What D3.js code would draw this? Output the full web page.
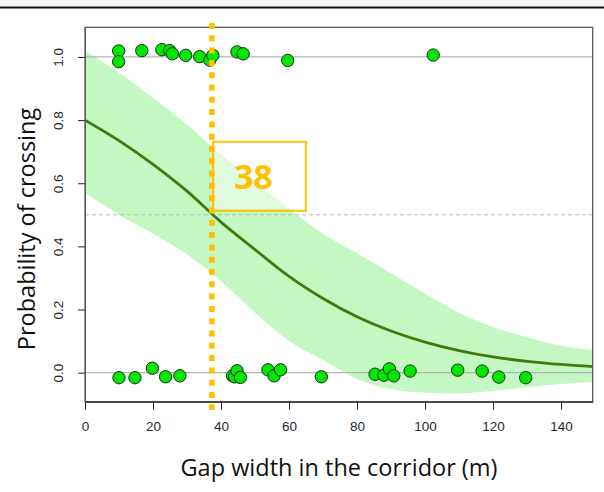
<!DOCTYPE html>
<html>
<head>
<meta charset="utf-8">
<script src="https://cdn.jsdelivr.net/npm/d3@7"></script>
<style>
  html, body { margin: 0; padding: 0; background: #fff; }
  #chart { width: 604px; height: 492px; }
</style>
</head>
<body>
<div id="chart"></div>
<script>
// crossings observed (y jittered around 1)
const gapCrossed  = [9.9, 9.9, 16.7, 22.6, 24.9, 25.7, 29.6, 33.7, 36.7, 37.6, 44.7, 46.5, 59.6, 102.4];
const probCrossed = [1.019, 0.985, 1.02, 1.023, 1.02, 1.01, 1.005, 1.001, 0.99, 1.005, 1.016, 1.01, 0.989, 1.006];
// no crossing (y jittered around 0)
const gapNot  = [10.0, 14.7, 19.8, 23.7, 27.9, 43.4, 44.0, 44.7, 45.7, 53.8, 55.6, 57.5, 69.5,
                 85.3, 87.9, 89.5, 90.8, 95.6, 109.6, 116.8, 121.7, 129.6];
const probNot = [-0.016, -0.016, 0.014, -0.013, -0.01, -0.01, -0.013, 0.006, -0.015, 0.009, -0.01, 0.009, -0.013,
                 -0.005, -0.008, 0.012, -0.01, 0.005, 0.008, 0.005, -0.014, -0.016];

// fitted curve and confidence band
const curveGap  = [0, 10, 20, 30, 40, 50, 60, 70, 80, 90, 100, 110, 120, 130, 140, 150];
const fitProb   = [0.80, 0.735, 0.66, 0.575, 0.477, 0.39, 0.305, 0.235, 0.177, 0.132, 0.097, 0.07, 0.05, 0.036, 0.026, 0.019];
const upperProb = [1.02, 0.95, 0.87, 0.785, 0.69, 0.605, 0.52, 0.44, 0.378, 0.315, 0.25, 0.19, 0.145, 0.112, 0.085, 0.071];
const lowerProb = [0.57, 0.50, 0.44, 0.375, 0.29, 0.19, 0.10, 0.04, -0.02, -0.052, -0.064, -0.066, -0.057, -0.046, -0.036, -0.028];

const xTicks = [0, 20, 40, 60, 80, 100, 120, 140];
const yTicks = [0, 0.2, 0.4, 0.6, 0.8, 1.0];
const refLines = [0, 1];
const halfLine = 0.5;
const thresholdGap = 37.3;
const thresholdLabel = "38";

const width = 604, height = 492;
const margin = { left: 85, right: 11.3, top: 27.3, bottom: 90.3 };

const svg = d3.select("#chart").append("svg")
  .attr("width", width)
  .attr("height", height);

// strip at the very top
svg.append("rect").attr("x", 0).attr("y", 0).attr("width", width).attr("height", 6.5).attr("fill", "#f6f7f5");
svg.append("line").attr("x1", 0).attr("x2", width).attr("y1", 7.5).attr("y2", 7.5)
  .attr("stroke", "#111").attr("stroke-width", 2.2);

const x = d3.scaleLinear().domain([0, 149.3]).range([margin.left, width - margin.right]);
const y = d3.scaleLinear().domain([-0.092, 1.094]).range([height - margin.bottom, margin.top]);

svg.append("clipPath").attr("id", "plotclip")
  .append("rect")
  .attr("x", margin.left).attr("y", margin.top)
  .attr("width", width - margin.left - margin.right)
  .attr("height", height - margin.top - margin.bottom);

const plot = svg.append("g").attr("clip-path", "url(#plotclip)");

const bandData = curveGap.map((g, i) => ({ g, lo: lowerProb[i], hi: upperProb[i], fit: fitProb[i] }));

// confidence band
plot.append("path")
  .datum(bandData)
  .attr("fill", "#c3f8c3")
  .attr("d", d3.area()
    .x(d => x(d.g))
    .y0(d => y(d.lo))
    .y1(d => y(d.hi))
    .curve(d3.curveMonotoneX));

// reference lines
plot.selectAll("line.ref")
  .data(refLines)
  .enter().append("line")
  .attr("class", "ref")
  .attr("x1", margin.left).attr("x2", width - margin.right)
  .attr("y1", d => y(d)).attr("y2", d => y(d))
  .attr("stroke", "#b4b4b4").attr("stroke-width", 1.2);

plot.append("line")
  .attr("x1", margin.left).attr("x2", width - margin.right)
  .attr("y1", y(halfLine)).attr("y2", y(halfLine))
  .attr("stroke", "#b8b8b8").attr("stroke-width", 1)
  .attr("stroke-dasharray", "4,3");

// fitted curve
plot.append("path")
  .datum(bandData)
  .attr("fill", "none")
  .attr("stroke", "#3a7d0a")
  .attr("stroke-width", 2.8)
  .attr("d", d3.line()
    .x(d => x(d.g))
    .y(d => y(d.fit))
    .curve(d3.curveMonotoneX));

// plot box
svg.append("rect")
  .attr("x", margin.left).attr("y", margin.top)
  .attr("width", width - margin.left - margin.right)
  .attr("height", height - margin.top - margin.bottom)
  .attr("fill", "none").attr("stroke", "#5a5a5a").attr("stroke-width", 1.3);

// points
const pts = gapCrossed.map((g, i) => ({ g, p: probCrossed[i] }))
  .concat(gapNot.map((g, i) => ({ g, p: probNot[i] })));
svg.append("g")
  .selectAll("circle")
  .data(pts)
  .enter().append("circle")
  .attr("cx", d => x(d.g))
  .attr("cy", d => y(d.p))
  .attr("r", 6.2)
  .attr("fill", "#00e800")
  .attr("stroke", "#1f2a1f")
  .attr("stroke-width", 1);

// x axis
const xAxis = svg.append("g")
  .attr("transform", `translate(0, ${height - margin.bottom})`)
  .call(d3.axisBottom(x).tickValues(xTicks).tickSize(8).tickPadding(12).tickSizeOuter(0));
xAxis.select(".domain").attr("stroke", "#111");
xAxis.selectAll(".tick line").attr("stroke", "#222");
xAxis.selectAll("text")
  .attr("font-family", "Liberation Sans, Arial, sans-serif")
  .attr("font-size", 13.5)
  .attr("fill", "#26262e");

// y axis, labels rotated like R
const yAxis = svg.append("g")
  .attr("transform", `translate(${margin.left}, 0)`)
  .call(d3.axisLeft(y).tickValues(yTicks).tickFormat(d3.format(".1f")).tickSize(7).tickSizeOuter(0));
yAxis.select(".domain").attr("stroke", "#5a5a5a");
yAxis.selectAll(".tick line").attr("stroke", "#222");
yAxis.selectAll("text")
  .attr("font-family", "Liberation Sans, Arial, sans-serif")
  .attr("font-size", 13.5)
  .attr("fill", "#26262e")
  .attr("transform", "rotate(-90)")
  .attr("x", 0)
  .attr("y", -22.5)
  .attr("dy", 0)
  .attr("text-anchor", "middle");

// axis titles
svg.append("text")
  .attr("x", 339).attr("y", 476)
  .attr("text-anchor", "middle")
  .attr("font-family", "Open Sans, sans-serif")
  .attr("font-size", 23.5)
  .attr("fill", "#111")
  .text("Gap width in the corridor (m)");

svg.append("text")
  .attr("transform", "translate(35, 229) rotate(-90)")
  .attr("text-anchor", "middle")
  .attr("font-family", "Open Sans, sans-serif")
  .attr("font-size", 23.5)
  .attr("fill", "#111")
  .text("Probability of crossing");

// threshold annotation box
svg.append("rect")
  .attr("x", x(thresholdGap) + 1.3).attr("y", 141.7)
  .attr("width", 92.7).attr("height", 69)
  .attr("fill", "#fff").attr("fill-opacity", 0.45)
  .attr("stroke", "#ffc000").attr("stroke-width", 2);

svg.append("text")
  .attr("x", x(thresholdGap) + 41.5).attr("y", 188.5)
  .attr("text-anchor", "middle")
  .attr("font-family", "Open Sans, sans-serif")
  .attr("font-weight", "bold")
  .attr("font-size", 34)
  .attr("fill", "#ffc000")
  .text(thresholdLabel);

// threshold dotted line
svg.append("line")
  .attr("x1", x(thresholdGap)).attr("x2", x(thresholdGap))
  .attr("y1", 23).attr("y2", 410)
  .attr("stroke", "#ffc000")
  .attr("stroke-width", 5.5)
  .attr("stroke-dasharray", "6,6.3");
</script>
</body>
</html>
